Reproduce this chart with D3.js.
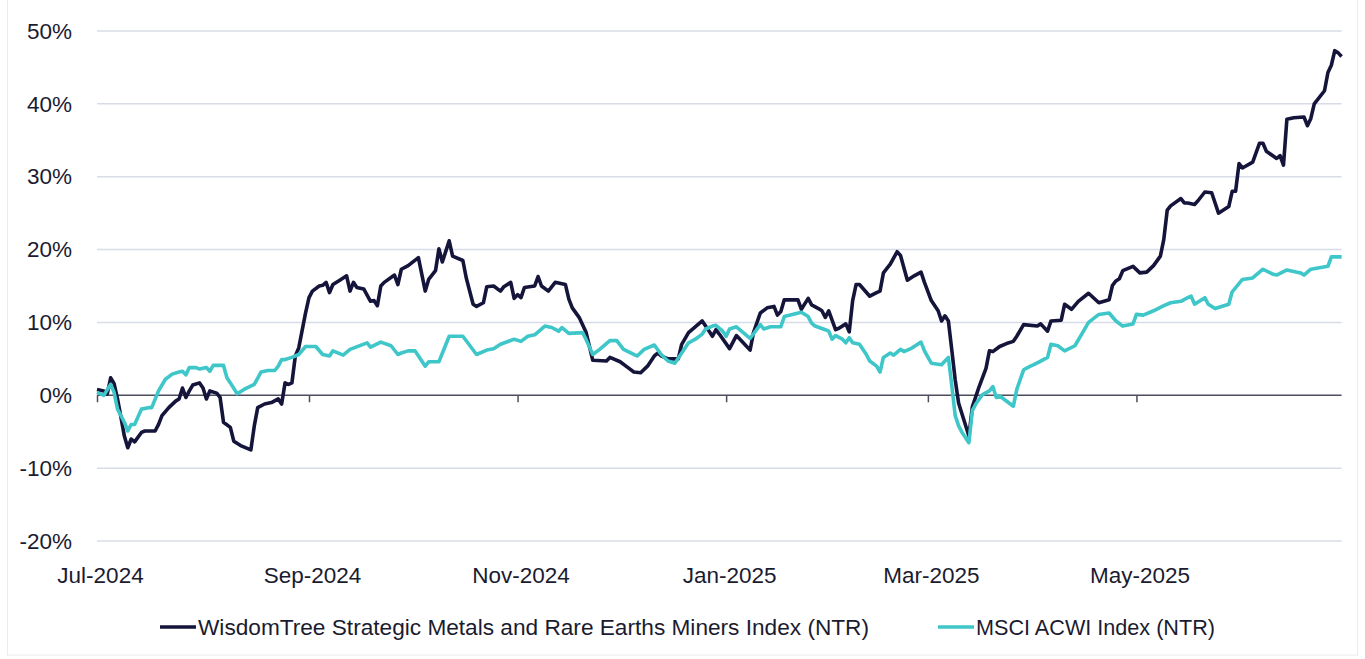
<!DOCTYPE html>
<html>
<head>
<meta charset="utf-8">
<script src="https://cdn.jsdelivr.net/npm/d3@7"></script>
<style>
  body { margin: 0; background: #fff; }
  svg text { font-family: Arial, "Liberation Sans", sans-serif; fill: #1b1b30; }
</style>
</head>
<body>
<svg id="chart" width="1365" height="659"></svg>
<script>
// WisdomTree Strategic Metals and Rare Earths Miners Index (NTR), cumulative %
const wtDates = [
  "2024-07-01","2024-07-03","2024-07-04","2024-07-05","2024-07-06","2024-07-07","2024-07-08","2024-07-09","2024-07-10","2024-07-11","2024-07-12","2024-07-14","2024-07-15","2024-07-18","2024-07-19","2024-07-20","2024-07-22","2024-07-24","2024-07-25","2024-07-26","2024-07-27","2024-07-28","2024-07-29","2024-07-31",
  "2024-08-01","2024-08-02","2024-08-03","2024-08-05","2024-08-06","2024-08-07","2024-08-09","2024-08-10","2024-08-12","2024-08-15","2024-08-16","2024-08-17","2024-08-19","2024-08-21","2024-08-23","2024-08-24","2024-08-25","2024-08-26","2024-08-27","2024-08-28","2024-08-29","2024-08-31",
  "2024-09-01","2024-09-02","2024-09-04","2024-09-05","2024-09-06","2024-09-07","2024-09-08","2024-09-10","2024-09-12","2024-09-13","2024-09-14","2024-09-15","2024-09-17","2024-09-19","2024-09-20","2024-09-21","2024-09-22","2024-09-23","2024-09-26","2024-09-27","2024-09-28","2024-09-30",
  "2024-10-03","2024-10-05","2024-10-06","2024-10-08","2024-10-09","2024-10-10","2024-10-12","2024-10-13","2024-10-16","2024-10-17","2024-10-19","2024-10-20","2024-10-22","2024-10-23","2024-10-25","2024-10-27","2024-10-28","2024-10-30","2024-10-31",
  "2024-11-01","2024-11-02","2024-11-03","2024-11-06","2024-11-07","2024-11-08","2024-11-10","2024-11-12","2024-11-15","2024-11-16","2024-11-17","2024-11-19","2024-11-21","2024-11-23","2024-11-27","2024-11-28",
  "2024-12-01","2024-12-03","2024-12-05","2024-12-07","2024-12-09","2024-12-11","2024-12-12","2024-12-13","2024-12-15","2024-12-18","2024-12-19","2024-12-21","2024-12-25","2024-12-26","2024-12-28","2024-12-29","2024-12-30",
  "2025-01-02","2025-01-04","2025-01-06","2025-01-08","2025-01-09","2025-01-11","2025-01-13","2025-01-15","2025-01-16","2025-01-17","2025-01-18","2025-01-22","2025-01-23","2025-01-25","2025-01-26","2025-01-28","2025-01-29","2025-01-30","2025-01-31",
  "2025-02-02","2025-02-03","2025-02-05","2025-02-06","2025-02-07","2025-02-08","2025-02-09","2025-02-12","2025-02-14","2025-02-15","2025-02-16","2025-02-18","2025-02-20","2025-02-21","2025-02-23","2025-02-25","2025-02-27","2025-02-28",
  "2025-03-02","2025-03-04","2025-03-05","2025-03-06","2025-03-07","2025-03-08","2025-03-09","2025-03-10","2025-03-13","2025-03-14","2025-03-16","2025-03-18","2025-03-19","2025-03-20","2025-03-22","2025-03-24","2025-03-26","2025-03-27","2025-03-29",
  "2025-04-02","2025-04-03","2025-04-05","2025-04-06","2025-04-09","2025-04-10","2025-04-12","2025-04-14","2025-04-17","2025-04-20","2025-04-23","2025-04-24","2025-04-25","2025-04-26","2025-04-27","2025-04-30",
  "2025-05-02","2025-05-04","2025-05-06","2025-05-08","2025-05-09","2025-05-10","2025-05-11","2025-05-14","2025-05-15","2025-05-16","2025-05-18","2025-05-19","2025-05-21","2025-05-23","2025-05-25","2025-05-28","2025-05-29","2025-05-30","2025-05-31",
  "2025-06-01","2025-06-04","2025-06-06","2025-06-07","2025-06-08","2025-06-11","2025-06-12","2025-06-13","2025-06-14","2025-06-16","2025-06-19","2025-06-20","2025-06-21","2025-06-22","2025-06-25","2025-06-26","2025-06-27","2025-06-28","2025-06-29","2025-06-30"
];
const wtValues = [
  0.8,0.6,0.2,2.4,1.6,-0.5,-3.0,-5.6,-7.2,-6.0,-6.4,-5.1,-4.9,-4.9,-4.0,-2.8,-1.7,-0.8,-0.5,1.0,-0.3,0.6,1.4,1.7,
  1.0,-0.5,0.6,0.3,-0.3,-3.7,-4.4,-6.3,-6.9,-7.5,-4.2,-1.7,-1.2,-1.0,-0.5,-1.2,1.7,1.5,1.7,5.4,6.5,11.3,
  13.4,14.3,15.0,15.1,15.5,14.1,15.2,15.8,16.4,14.3,15.5,14.8,14.6,12.9,13.0,12.3,15.0,15.5,16.5,15.2,17.3,17.8,
  18.9,14.3,15.9,17.1,20.1,18.3,21.2,19.1,18.5,16.1,12.5,12.2,12.7,14.9,15.0,14.3,14.9,15.5,13.3,
  13.8,13.4,14.8,15.0,16.3,15.0,14.3,15.5,15.2,13.2,12.0,10.7,8.7,4.8,4.7,5.2,
  4.6,3.9,3.2,3.1,4.0,5.4,5.8,5.4,5.0,5.0,7.0,8.6,10.2,9.5,8.1,9.0,8.4,
  6.4,8.2,7.2,6.2,8.6,11.3,12.0,12.2,11.0,11.5,13.1,13.1,11.8,13.3,12.4,11.9,11.6,10.7,11.6,
  9.0,9.2,9.8,8.7,13.0,15.2,15.2,13.6,14.1,14.3,16.8,18.0,19.7,19.2,15.8,16.4,16.9,15.5,
  13.0,11.6,10.2,10.9,10.2,6.2,2.1,-1.1,-5.6,-1.6,1.2,3.7,6.1,6.0,6.7,7.1,7.4,8.1,9.7,
  9.5,9.8,8.8,10.2,10.3,12.5,11.8,12.9,14.0,12.7,13.1,15.1,15.7,16.0,17.1,17.7,
  16.8,16.9,17.8,19.1,21.4,25.4,26.0,27.0,26.4,26.4,26.2,26.7,27.9,27.8,25.0,25.9,28.0,28.0,31.8,
  31.2,32.0,34.6,34.6,33.5,32.5,32.9,31.6,37.9,38.1,38.2,37.0,38.0,40.0,41.8,44.3,45.3,47.3,47.0,46.5
];

// MSCI ACWI Index (NTR), cumulative %
const msciDates = [
  "2024-07-01","2024-07-03","2024-07-05","2024-07-06","2024-07-07","2024-07-09","2024-07-10","2024-07-11","2024-07-12","2024-07-14","2024-07-16","2024-07-17","2024-07-19","2024-07-21","2024-07-23","2024-07-25","2024-07-26","2024-07-27","2024-07-28","2024-07-30","2024-07-31",
  "2024-08-02","2024-08-03","2024-08-04","2024-08-07","2024-08-08","2024-08-09","2024-08-11","2024-08-13","2024-08-16","2024-08-18","2024-08-20","2024-08-22","2024-08-23","2024-08-24","2024-08-25","2024-08-27","2024-08-29","2024-08-31",
  "2024-09-03","2024-09-05","2024-09-07","2024-09-08","2024-09-11","2024-09-13","2024-09-18","2024-09-19","2024-09-22","2024-09-25","2024-09-27","2024-09-28","2024-09-30",
  "2024-10-02","2024-10-05","2024-10-06","2024-10-09","2024-10-12","2024-10-16","2024-10-20","2024-10-23","2024-10-25","2024-10-27","2024-10-31",
  "2024-11-02","2024-11-04","2024-11-06","2024-11-09","2024-11-11","2024-11-13","2024-11-14","2024-11-16","2024-11-20","2024-11-21","2024-11-23","2024-11-25","2024-11-28","2024-11-30",
  "2024-12-02","2024-12-05","2024-12-06","2024-12-08","2024-12-11","2024-12-13","2024-12-15","2024-12-17","2024-12-19","2024-12-21","2024-12-23","2024-12-25","2024-12-26","2024-12-28","2024-12-29","2024-12-31",
  "2025-01-01","2025-01-02","2025-01-04","2025-01-06","2025-01-08","2025-01-11","2025-01-12","2025-01-14","2025-01-17","2025-01-18","2025-01-23","2025-01-25","2025-01-26","2025-01-27","2025-01-30","2025-01-31",
  "2025-02-01","2025-02-02","2025-02-04","2025-02-05","2025-02-06","2025-02-07","2025-02-09","2025-02-11","2025-02-12","2025-02-14","2025-02-15","2025-02-16","2025-02-18","2025-02-19","2025-02-21","2025-02-22","2025-02-24","2025-02-27","2025-02-28",
  "2025-03-02","2025-03-05","2025-03-06","2025-03-07","2025-03-08","2025-03-09","2025-03-10","2025-03-11","2025-03-13","2025-03-14","2025-03-15","2025-03-17","2025-03-19","2025-03-20","2025-03-21","2025-03-22","2025-03-26","2025-03-27","2025-03-29","2025-03-31",
  "2025-04-01","2025-04-03","2025-04-05","2025-04-06","2025-04-08","2025-04-10","2025-04-13","2025-04-15","2025-04-17","2025-04-20","2025-04-23","2025-04-25","2025-04-27","2025-04-30",
  "2025-05-01","2025-05-03","2025-05-06","2025-05-09","2025-05-11","2025-05-14","2025-05-16","2025-05-17","2025-05-18","2025-05-21","2025-05-22","2025-05-24","2025-05-28","2025-05-29",
  "2025-06-01","2025-06-04","2025-06-07","2025-06-10","2025-06-11","2025-06-14","2025-06-18","2025-06-19","2025-06-21","2025-06-26","2025-06-27","2025-06-30"
];
const msciValues = [
  0.4,0.0,1.5,0.4,-1.9,-3.7,-4.9,-4.0,-4.0,-1.9,-1.7,-1.7,0.6,2.2,2.9,3.2,3.3,2.8,3.8,3.8,3.6,
  3.8,3.3,4.1,4.1,2.4,1.7,0.2,0.8,1.5,3.2,3.4,3.4,4.0,4.9,4.9,5.2,5.6,6.7,
  6.7,5.6,5.4,6.1,5.5,6.3,7.2,6.6,7.3,6.8,5.6,5.8,6.1,
  6.1,4.0,4.6,4.6,8.1,8.1,5.6,6.2,6.4,7.0,7.7,
  7.4,8.1,8.3,9.5,9.3,8.8,9.3,8.5,8.6,7.7,5.6,6.3,7.5,7.5,
  6.3,5.6,5.4,6.3,6.9,5.6,4.7,4.4,5.8,7.2,7.7,8.4,9.1,9.5,9.6,8.8,
  8.1,9.1,9.4,8.6,7.8,9.7,9.1,9.4,9.4,10.8,11.4,10.8,9.9,9.5,9.0,8.8,
  7.7,8.2,7.7,7.2,7.9,7.2,7.0,5.6,4.7,4.0,3.2,5.2,5.8,5.5,6.3,6.0,6.4,7.3,6.1,
  4.4,4.2,4.7,5.2,1.3,-2.8,-4.2,-5.1,-6.5,-2.1,-1.2,0.1,0.6,1.2,-0.3,-0.1,-1.5,0.8,3.5,4.0,
  4.2,4.7,5.2,7.0,6.8,6.1,6.8,8.4,10.0,11.1,11.3,10.2,9.5,9.8,
  11.1,11.0,11.6,12.3,12.7,12.9,13.4,13.6,12.5,13.4,12.5,11.9,12.5,14.2,
  15.9,16.1,17.3,16.6,16.5,17.2,16.8,16.5,17.3,17.7,19.0,19.0
];

const seriesNames = ["WisdomTree Strategic Metals and Rare Earths Miners Index (NTR)", "MSCI ACWI Index (NTR)"];
const seriesColors = ["#15143b", "#3ec6c9"];
const yTicks = [-20, -10, 0, 10, 20, 30, 40, 50];
const xTicks = ["2024-07-01", "2024-09-01", "2024-11-01", "2025-01-01", "2025-03-01", "2025-05-01"];
const xDomain = ["2024-07-01", "2025-06-30"];

const parse = d3.timeParse("%Y-%m-%d");
const svg = d3.select("#chart");

const x = d3.scaleTime().domain(xDomain.map(parse)).range([97, 1341.6]);
const y = d3.scaleLinear().domain([-20, 50]).range([541, 31]);

// faint frame around the picture
svg.append("rect")
  .attr("x", 7.5).attr("y", -2).attr("width", 1350).attr("height", 657)
  .attr("fill", "none").attr("stroke", "#ececec");

// gridlines
svg.append("g").selectAll("line")
  .data(yTicks.filter(d => d !== 0))
  .join("line")
  .attr("x1", x.range()[0]).attr("x2", x.range()[1])
  .attr("y1", d => y(d)).attr("y2", d => y(d))
  .attr("stroke", "#d8dce6").attr("stroke-width", 1.5);

// y labels
const yAxis = svg.append("g")
  .attr("transform", "translate(72,0)")
  .call(d3.axisLeft(y).tickValues(yTicks).tickSize(0).tickPadding(0).tickFormat(d => d + "%"));
yAxis.select(".domain").remove();
yAxis.selectAll("text").style("font-size", "22.5px").attr("fill", "#1b1b30");

// zero line with month ticks, labels at the bottom
const xAxis = svg.append("g")
  .attr("transform", `translate(0,${y(0)})`)
  .call(d3.axisBottom(x).tickValues(xTicks.map(parse)).tickSize(7).tickSizeOuter(0)
    .tickFormat(d3.timeFormat("%b-%Y")));
xAxis.select(".domain").remove();
xAxis.selectAll(".tick line").attr("stroke", "#4d4d5e").attr("stroke-width", 1.5);
xAxis.selectAll("text")
  .style("font-size", "22.5px").attr("fill", "#1b1b30")
  .attr("y", 172).attr("dx", 3);

svg.append("line")
  .attr("x1", x.range()[0]).attr("x2", x.range()[1])
  .attr("y1", y(0)).attr("y2", y(0))
  .attr("stroke", "#4d4d5e").attr("stroke-width", 1.5);

// lines
const series = [
  wtDates.map((d, i) => ({ date: parse(d), value: wtValues[i] })),
  msciDates.map((d, i) => ({ date: parse(d), value: msciValues[i] }))
];
const line = d3.line().x(d => x(d.date)).y(d => y(d.value));

svg.append("g").selectAll("path")
  .data(series)
  .join("path")
  .attr("d", line)
  .attr("fill", "none")
  .attr("stroke", (d, i) => seriesColors[i])
  .attr("stroke-width", 3.6)
  .attr("stroke-linejoin", "round");

// legend
const legendX = [160, 938];
const legendW = [671, 239];
const legend = svg.append("g").selectAll("g")
  .data(seriesNames)
  .join("g")
  .attr("transform", (d, i) => `translate(${legendX[i]},627)`);
legend.append("line")
  .attr("x1", 0).attr("x2", 36).attr("y1", 0).attr("y2", 0)
  .attr("stroke", (d, i) => seriesColors[i]).attr("stroke-width", 3.5);
legend.append("text")
  .attr("x", 38).attr("dy", "0.35em")
  .style("font-size", "22px")
  .attr("textLength", (d, i) => legendW[i])
  .attr("lengthAdjust", "spacingAndGlyphs")
  .text(d => d);
</script>
</body>
</html>
